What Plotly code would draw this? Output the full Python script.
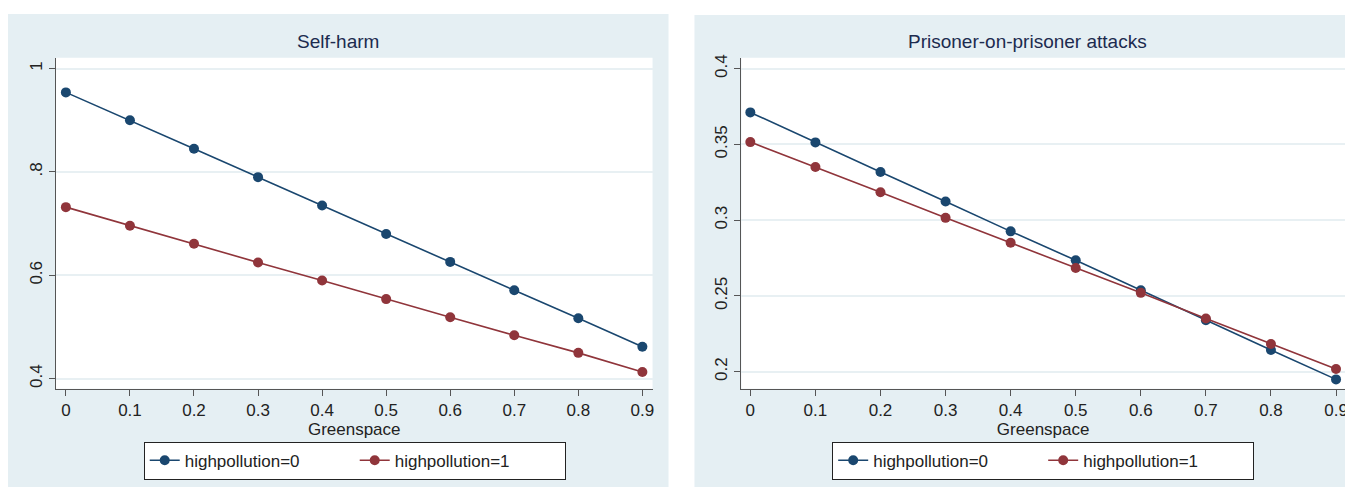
import plotly.graph_objects as go

greenspace = [0, 0.1, 0.2, 0.3, 0.4, 0.5, 0.6, 0.7, 0.8, 0.9]
x_ticklabels = ["0", "0.1", "0.2", "0.3", "0.4", "0.5", "0.6", "0.7", "0.8", "0.9"]

# Self-harm panel
selfharm_hp0 = [0.954, 0.900, 0.845, 0.790, 0.735, 0.680, 0.626, 0.571, 0.517, 0.462]
selfharm_hp1 = [0.732, 0.696, 0.661, 0.625, 0.590, 0.554, 0.519, 0.484, 0.450, 0.413]
selfharm_yticks = [0.4, 0.6, 0.8, 1.0]
selfharm_yticklabels = ["0.4", "0.6", ".8", "1"]

# Prisoner-on-prisoner attacks panel
attacks_hp0 = [0.3711, 0.3513, 0.3318, 0.3123, 0.2926, 0.2735, 0.2537, 0.2340, 0.2143, 0.1949]
attacks_hp1 = [0.3515, 0.3351, 0.3184, 0.3015, 0.2851, 0.2684, 0.2520, 0.2351, 0.2182, 0.2018]
attacks_yticks = [0.2, 0.25, 0.3, 0.35, 0.4]
attacks_yticklabels = ["0.2", "0.25", "0.3", "0.35", "0.4"]

series_names = ["highpollution=0", "highpollution=1"]
titles = ["Self-harm", "Prisoner-on-prisoner attacks"]
x_title = "Greenspace"

# The page body adds an 8px margin, so the figure is drawn 8px in from top-left.
OFF = 8
W, H = 1353 - OFF, 490 - OFF
NAVY = "#1a476f"
MAROON = "#90353b"
PANEL_BG = "#e5eff3"
GRID = "#e8f0f3"
FONT = "Liberation Sans, Arial, sans-serif"
TXT = "#222222"

def px(x):
    return (x - OFF) / W

def py(y):
    return 1 - (y - OFF) / H

fig = go.Figure()

def add_series(xa, ya, leg, v0, v1):
    fig.add_trace(go.Scatter(x=greenspace, y=v0, name=series_names[0], mode="lines+markers",
                             line=dict(color=NAVY, width=1.6), marker=dict(color=NAVY, size=10),
                             xaxis=xa, yaxis=ya, legend=leg))
    fig.add_trace(go.Scatter(x=greenspace, y=v1, name=series_names[1], mode="lines+markers",
                             line=dict(color=MAROON, width=1.6), marker=dict(color=MAROON, size=10),
                             xaxis=xa, yaxis=ya, legend=leg))

add_series("x", "y", "legend", selfharm_hp0, selfharm_hp1)
add_series("x2", "y2", "legend2", attacks_hp0, attacks_hp1)

axis_common = dict(showline=True, linecolor="#555555", linewidth=1.2, ticks="outside",
                   ticklen=6, tickcolor="#555555", zeroline=False,
                   tickfont=dict(size=17, color=TXT, family=FONT))

xdom1 = [px(56), px(654)]
xdom2 = [px(743), px(1348)]
ydom = [py(388), py(55)]

legend_common = dict(orientation="h", xanchor="center", yanchor="middle",
                     bgcolor="white", bordercolor=TXT, borderwidth=1,
                     font=dict(size=17, color=TXT), entrywidth=165, entrywidthmode="pixels")

fig.update_layout(
    width=W, height=H,
    margin=dict(l=0, r=0, t=0, b=0),
    paper_bgcolor="white",
    plot_bgcolor="white",
    font=dict(family=FONT, color=TXT),
    showlegend=True,
    xaxis=dict(domain=xdom1, anchor="y", range=[-0.0156, 0.9159], tickvals=greenspace,
               ticktext=x_ticklabels, showgrid=False,
               title=dict(text=x_title, font=dict(size=17, color=TXT), standoff=2),
               **axis_common),
    yaxis=dict(domain=ydom, anchor="x", range=[0.3808, 1.0211], tickvals=selfharm_yticks,
               ticktext=selfharm_yticklabels, tickangle=-90, showgrid=True, gridcolor=GRID,
               gridwidth=1.5, **axis_common),
    xaxis2=dict(domain=xdom2, anchor="y2", range=[-0.0138, 0.9138], tickvals=greenspace,
                ticktext=x_ticklabels, showgrid=False,
                title=dict(text=x_title, font=dict(size=17, color=TXT), standoff=2),
                **axis_common),
    yaxis2=dict(domain=ydom, anchor="x2", range=[0.1888, 0.4072], tickvals=attacks_yticks,
                ticktext=attacks_yticklabels, tickangle=-90, showgrid=True, gridcolor=GRID,
                gridwidth=1.5, **axis_common),
    legend=dict(x=px(355.5), y=py(460.5), **legend_common),
    legend2=dict(x=px(1045.5), y=py(460.5), **legend_common),
    shapes=[
        dict(type="rect", xref="paper", yref="paper", x0=px(8), x1=px(670), y0=py(487), y1=py(11),
             fillcolor=PANEL_BG, line=dict(width=0), layer="below"),
        dict(type="rect", xref="paper", yref="paper", x0=px(696), x1=px(1349), y0=py(487), y1=py(12),
             fillcolor=PANEL_BG, line=dict(width=0), layer="below"),
        dict(type="rect", xref="paper", yref="paper", x0=xdom1[0], x1=xdom1[1], y0=ydom[0], y1=ydom[1],
             fillcolor="white", line=dict(width=0), layer="below"),
        dict(type="rect", xref="paper", yref="paper", x0=xdom2[0], x1=xdom2[1], y0=ydom[0], y1=ydom[1],
             fillcolor="white", line=dict(width=0), layer="below"),
    ],
    annotations=[
        dict(text=titles[0], xref="paper", yref="paper", x=px(339), y=py(39), xanchor="center",
             yanchor="middle", showarrow=False, font=dict(size=19, color="#1c2b4f")),
        dict(text=titles[1], xref="paper", yref="paper", x=px(1030), y=py(39), xanchor="center",
             yanchor="middle", showarrow=False, font=dict(size=19, color="#1c2b4f")),
    ],
)

fig.write_html("out.html")
